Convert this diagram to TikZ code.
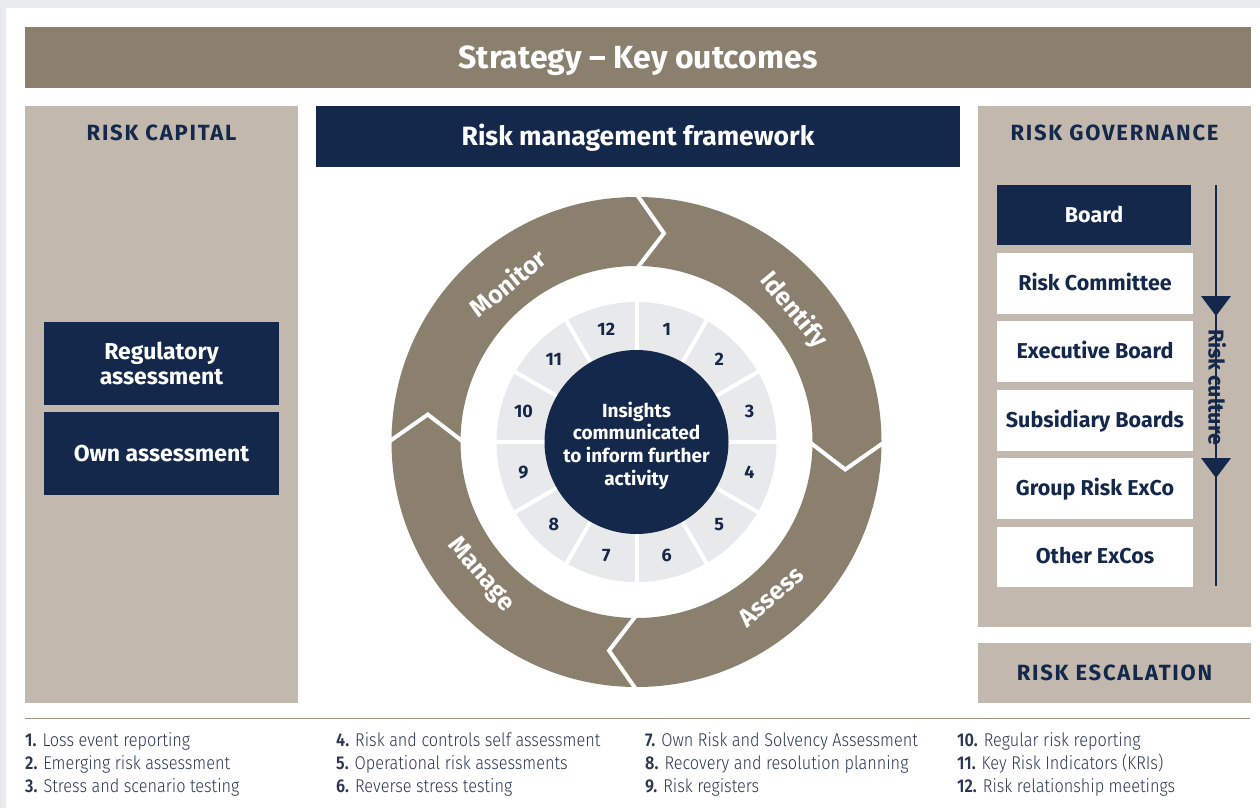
\documentclass[tikz,border=0pt]{standalone}
\usepackage{fontspec}
\setmainfont{Fira Sans}
\newfontfamily\legfont[UprightFont=* Light, BoldFont=* SemiBold, FakeStretch=0.88]{Fira Sans}
\usetikzlibrary{calc}
\definecolor{brownd}{HTML}{8B7F6E}
\definecolor{tanl}{HTML}{C2B8AD}
\definecolor{navy}{HTML}{13284B}
\definecolor{segg}{HTML}{E8E9EB}
\definecolor{edgeg}{HTML}{E9EAEC}
\definecolor{legc}{HTML}{2A3654}
\definecolor{rulec}{HTML}{9E9282}
\tikzset{
  capc/.style={text height=#1, text depth=0pt},
  panel/.style={fill=tanl, draw=none},
  navybox/.style={fill=navy, draw=none, text=white, font=\bfseries\fontsize{23}{25}\selectfont, align=center, inner sep=0pt},
  whitebox/.style={fill=white, draw=none, text=navy, font=\bfseries\fontsize{21.5}{24}\selectfont, align=center, inner sep=0pt, capc=14.8pt},
  caphead/.style={text=navy, inner sep=0pt, capc=15.2pt, font=\bfseries\fontsize{22}{24}\selectfont\addfontfeature{LetterSpace=8}},
  ringlbl/.style={text=white, font=\bfseries\fontsize{25}{27}\selectfont},
  numlbl/.style={text=navy, inner sep=0pt, font=\bfseries\fontsize{18}{20}\selectfont, capc=12.4pt},
  legitem/.style={anchor=west, text=legc, font=\legfont\fontsize{18.5}{20}\selectfont, inner sep=0pt, capc=12.7pt},
  sep/.style={white, line width=4pt, line join=miter},
  segsep/.style={white, line width=4pt}
}
\begin{document}
\begin{tikzpicture}[x=1pt,y=-1pt]
\useasboundingbox (0,0) rectangle (1260,808);
\fill[edgeg] (0,0) rectangle (1260,808);
\fill[white] (6,8) rectangle (1260,808);
% title
\node[fill=brownd, minimum width=1226pt, minimum height=61pt, inner sep=0pt, text=white, capc=22pt, font=\bfseries\fontsize{32}{34}\selectfont] (title) at (638,57.5) {Strategy -- Key outcomes};
% left panel
\node[panel, minimum width=273pt, minimum height=597pt, inner sep=0pt] (leftp) at (161.5,404.5) {};
\node[caphead] (rcap) at (161.5,133) {RISK CAPITAL};
\node[navybox, minimum width=235pt, minimum height=83pt] (reg) at (161.5,363.5) {Regulatory\\assessment};
\node[navybox, capc=15.8pt, minimum width=235pt, minimum height=83pt] (own) at (161.5,453.5) {Own assessment};
% centre header
\node[navybox, capc=18.3pt, minimum width=644pt, minimum height=61pt, font=\bfseries\fontsize{26.5}{28}\selectfont] (rmf) at (638,136.5) {Risk management framework};
% right panel
\node[panel, minimum width=273pt, minimum height=521pt, inner sep=0pt] (rightp) at (1114.5,366.5) {};
\node[caphead] (rgov) at (1114.5,133) {RISK GOVERNANCE};
\node[navybox, capc=14.8pt, minimum width=194pt, minimum height=60pt, font=\bfseries\fontsize{21.5}{24}\selectfont] (board) at (1094,215) {Board};
\node[whitebox, minimum width=196pt, minimum height=61pt] (rc) at (1095,283.5) {Risk Committee};
\node[whitebox, minimum width=196pt, minimum height=61pt] (eb) at (1095,351.5) {Executive Board};
\node[whitebox, minimum width=196pt, minimum height=61pt] (sb) at (1095,420.5) {Subsidiary Boards};
\node[whitebox, minimum width=196pt, minimum height=61pt] (gre) at (1095,488.5) {Group Risk ExCo};
\node[whitebox, minimum width=196pt, minimum height=60pt] (oe) at (1095,556.5) {Other ExCos};
\coordinate (atop) at (1216,185);
\coordinate (abot) at (1216,586);
\draw[navy, line width=2pt] (atop) -- (abot);
\fill[navy] (1201,296) -- (1231,296) -- (1216,316) -- cycle;
\fill[navy] (1201,458) -- (1231,458) -- (1216,478) -- cycle;
\node[rotate=-90, text=navy, inner sep=0pt, capc=14.8pt, font=\bfseries\fontsize{21.5}{23}\selectfont] (rcul) at (1216,387) {Risk culture};
% escalation
\node[panel, minimum width=273pt, minimum height=60pt, inner sep=0pt] (escp) at (1114.5,673) {};
\node[caphead] (resc) at (1114.5,673) {RISK ESCALATION};
% ring
\coordinate (c) at (636.5,442);
\fill[brownd, even odd rule] (c) circle[radius=245pt] (c) circle[radius=176pt];
\foreach \a in {90,0,-90,180}{
  \draw[sep] ($(c)+(\a:248pt)$) -- ($(c)+(\a-7.5:210.5pt)$) -- ($(c)+(\a:173pt)$);
}
% segments
\fill[segg, even odd rule] (c) circle[radius=140pt] (c) circle[radius=86pt];
\foreach \a in {0,30,...,330}{
  \draw[segsep] ($(c)+(\a:84pt)$) -- ($(c)+(\a:142pt)$);
}
\fill[navy] (c) circle[radius=92pt];
\node[text=white, align=center, inner sep=0pt, font=\bfseries\fontsize{19}{22.7}\selectfont] (ins) at ($(c)+(0,3.5)$) {Insights\\communicated\\to inform further\\activity};
\foreach \k in {1,...,12}{
  \node[numlbl] (n\k) at ($(c)+({75-30*(\k-1)}:117pt)$) {\k};
}
\node[ringlbl, rotate=39] (mon) at ($(c)+(129:205pt)$) {Monitor};
\node[ringlbl, rotate=-50] (idf) at ($(c)+(40:205pt)$) {Identify};
\node[ringlbl, rotate=41] (ass) at ($(c)+(-49:205pt)$) {Assess};
\node[ringlbl, rotate=-49.5] (man) at ($(c)+(-139.5:205pt)$) {Manage};
% legend
\draw[rulec, line width=1.5pt] (25,718.5) -- (1250,718.5);
\node[legitem] (l1) at (25,740) {\textbf{1.} Loss event reporting};
\node[legitem] (l2) at (25,763) {\textbf{2.} Emerging risk assessment};
\node[legitem] (l3) at (25,786) {\textbf{3.} Stress and scenario testing};
\node[legitem] (l4) at (336,740) {\textbf{4.} Risk and controls self assessment};
\node[legitem] (l5) at (336,763) {\textbf{5.} Operational risk assessments};
\node[legitem] (l6) at (336,786) {\textbf{6.} Reverse stress testing};
\node[legitem] (l7) at (645,740) {\textbf{7.} Own Risk and Solvency Assessment};
\node[legitem] (l8) at (645,763) {\textbf{8.} Recovery and resolution planning};
\node[legitem] (l9) at (645,786) {\textbf{9.} Risk registers};
\node[legitem] (l10) at (957,740) {\textbf{10.} Regular risk reporting};
\node[legitem] (l11) at (957,763) {\textbf{11.} Key Risk Indicators (KRIs)};
\node[legitem] (l12) at (957,786) {\textbf{12.} Risk relationship meetings};
\end{tikzpicture}
\end{document}
